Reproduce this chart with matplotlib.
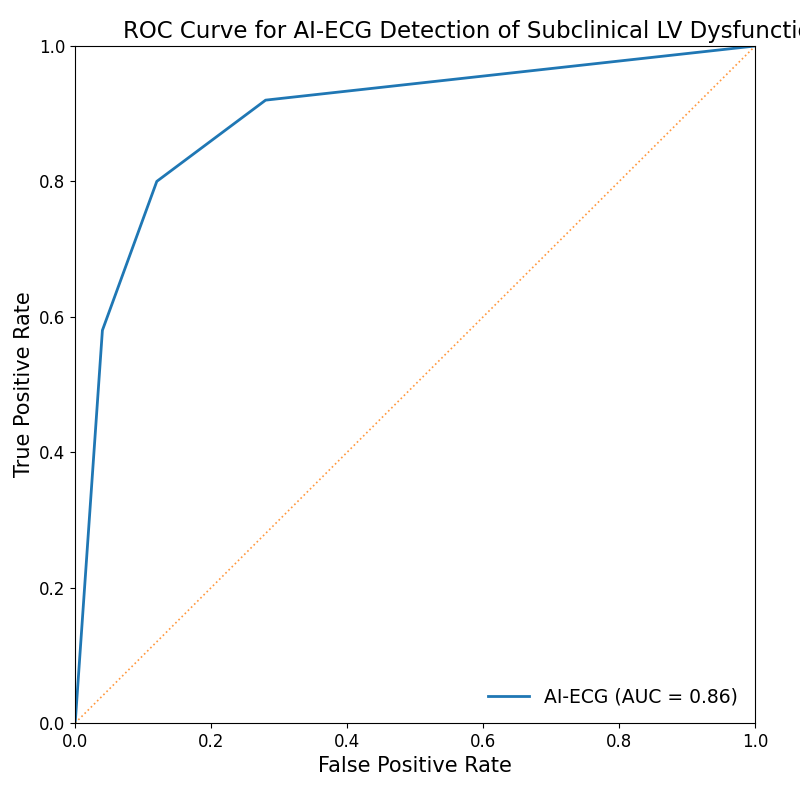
import matplotlib
matplotlib.use("Agg")
import matplotlib.pyplot as plt

# ROC operating points
fpr = [0.0, 0.04, 0.12, 0.28, 1.0]
tpr = [0.0, 0.58, 0.80, 0.92, 1.0]
auc_label = "AI-ECG (AUC = 0.86)"
chance = [0.0, 1.0]

fig = plt.figure(figsize=(8.0, 8.01), dpi=100)
ax = fig.add_axes([0.094, 0.0974, 0.85, 0.8452])

ax.plot(fpr, tpr, color="#1f77b4", lw=2, label=auc_label)
ax.plot(chance, chance, color="#ff7f0e", lw=1.2, ls=":", alpha=0.8)

ax.set_xlim(0, 1)
ax.set_ylim(0, 1)
ax.tick_params(labelsize=12)
ax.set_xlabel("False Positive Rate", fontsize=15)
ax.set_ylabel("True Positive Rate", fontsize=15)
ax.set_title("ROC Curve for AI-ECG Detection of Subclinical LV Dysfunction",
             fontsize=16.5, x=0.07, ha="left")
ax.legend(loc="lower right", frameon=False, fontsize=13.5, handlelength=2.2)

fig.savefig("out.png", dpi=100)
